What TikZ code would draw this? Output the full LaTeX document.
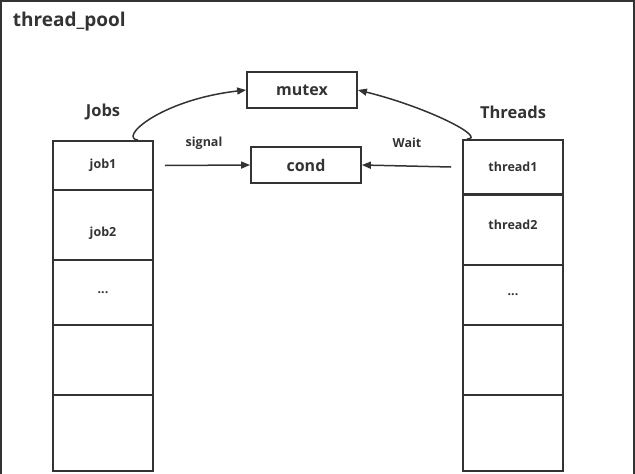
\documentclass[tikz,border=0pt]{standalone}
\usepackage{fontspec}
\setmainfont{Open Sans}
\usetikzlibrary{arrows.meta}
\definecolor{ink}{HTML}{333333}

\begin{document}
\begin{tikzpicture}[x=1pt,y=-1pt, color=ink, line width=1.8pt,
	celltext/.style={font=\bfseries\fontsize{12.5}{15}\selectfont},
	cell/.style={draw, minimum width=100pt, inner sep=0pt, celltext},
	lock/.style={draw, minimum width=110pt, minimum height=36pt, inner sep=0pt, font=\bfseries\fontsize{16}{19}\selectfont},
	head/.style={font=\bfseries\fontsize{16.5}{19}\selectfont},
	lbl/.style={font=\bfseries\fontsize{12.5}{15}\selectfont},
	arr/.style={line width=1.5pt, -{Triangle[length=9pt,width=7pt]}}]
	\useasboundingbox (0,0) rectangle (635,474);
	\draw (1,1) rectangle (634,480);
	\node[anchor=west, inner sep=0pt, font=\bfseries\fontsize{19}{22}\selectfont] (title) at (12,22) {thread\_pool};
	% jobs
	\node[head] (jobs) at (103,112) {Jobs};
	\node[cell, minimum height=49pt] (job1) at (103,165.5) {job1};
	\node[cell, minimum height=70pt, label={[celltext,yshift=-8pt]center:job2}] (job2) at (103,225) {};
	\node[cell, minimum height=65pt] (job3) at (103,292.5) {...};
	\node[cell, minimum height=70pt] (job4) at (103,360) {};
	\node[cell, minimum height=76pt] (job5) at (103,433) {};
	% threads
	\node[head] (threads) at (513,112) {Threads};
	\node[cell, minimum height=54pt] (thread1) at (513,167) {thread1};
	\node[cell, minimum height=70pt, label={[celltext,yshift=5pt]center:thread2}] (thread2) at (513,230) {};
	\node[cell, minimum height=60pt] (thread3) at (513,295) {...};
	\node[cell, minimum height=70pt] (thread4) at (513,360) {};
	\node[cell, minimum height=76pt] (thread5) at (513,433) {};
	% mutex and cond
	\node[lock] (mutex) at (302,90) {mutex};
	\node[lock] (cond) at (306,165) {cond};
	\node[lbl] (signal) at (204,143) {signal};
	\node[lbl] (wait) at (407,143) {Wait};
	\draw[arr] ([xshift=11pt]job1.east) -- (cond.west);
	\draw[arr] ([xshift=-11pt]thread1.west) -- (cond.east);
	\draw[arr] ([xshift=35pt]job1.north) .. controls (118,138) and (160,100) .. (mutex.west);
	\draw[arr] ([xshift=-46pt]thread1.north) .. controls (487,138) and (430,108) .. (mutex.east);
\end{tikzpicture}
\end{document}
